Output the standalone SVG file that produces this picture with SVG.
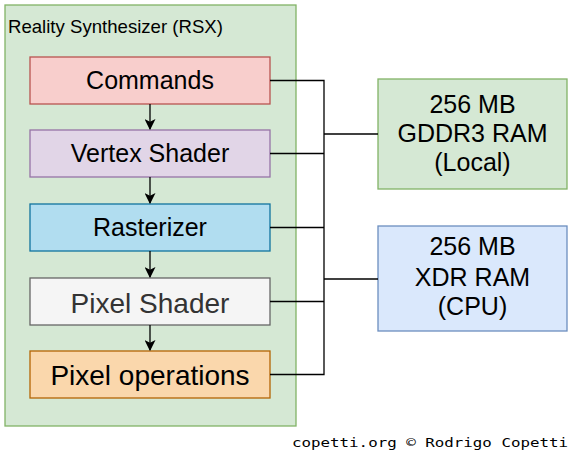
<svg xmlns="http://www.w3.org/2000/svg" width="573" height="461" viewBox="0 0 573 461">
<style>
.t{font-family:"Liberation Sans",Arial,sans-serif;fill:#000;text-anchor:middle}
.c{stroke:#000;stroke-width:1.3;fill:none}
</style>
<defs>
<marker id="ah" viewBox="0 0 10 10" refX="9" refY="5" markerWidth="11" markerHeight="11" markerUnits="userSpaceOnUse" orient="auto">
<path d="M0,0 L10,5 L0,10 L2.5,5 Z" fill="#000"/>
</marker>
</defs>
<rect width="573" height="461" fill="#fff"/>
<g id="rsx">
<rect x="5" y="5" width="291" height="421" fill="#d5e8d4" stroke="#82b366" stroke-width="1.3"/>
<text class="t" x="8" y="33" style="text-anchor:start;font-size:18.6px">Reality Synthesizer (RSX)</text>
</g>
<g id="commands">
<rect x="30" y="57" width="240" height="47" fill="#f8cecc" stroke="#b85450" stroke-width="1.3"/>
<text class="t" x="150" y="88.5" font-size="25">Commands</text>
</g>
<g id="vertex">
<rect x="30" y="130" width="240" height="47" fill="#e1d5e7" stroke="#9673a6" stroke-width="1.3"/>
<text class="t" x="150" y="162" font-size="25">Vertex Shader</text>
</g>
<g id="rasterizer">
<rect x="30" y="204" width="240" height="47" fill="#b1ddf0" stroke="#10739e" stroke-width="1.3"/>
<text class="t" x="150" y="235.5" font-size="25">Rasterizer</text>
</g>
<g id="pixelshader">
<rect x="30" y="278" width="240" height="47" fill="#f5f5f5" stroke="#666666" stroke-width="1.3"/>
<text class="t" x="150" y="312.5" font-size="28" style="fill:#333333">Pixel Shader</text>
</g>
<g id="pixelops">
<rect x="30" y="351" width="240" height="47" fill="#fad7ac" stroke="#b46504" stroke-width="1.3"/>
<text class="t" x="150" y="385" font-size="28">Pixel operations</text>
</g>
<g id="gddr3">
<rect x="378" y="79" width="189" height="110" fill="#d5e8d4" stroke="#82b366" stroke-width="1.3"/>
<text class="t" x="472.5" y="112.5" font-size="25">256 MB</text>
<text class="t" x="472.5" y="142" font-size="25">GDDR3 RAM</text>
<text class="t" x="472.5" y="171" font-size="25">(Local)</text>
</g>
<g id="xdr">
<rect x="378" y="226" width="189" height="105" fill="#dae8fc" stroke="#6c8ebf" stroke-width="1.3"/>
<text class="t" x="472.5" y="255" font-size="25">256 MB</text>
<text class="t" x="472.5" y="285.5" font-size="25">XDR RAM</text>
<text class="t" x="472.5" y="315" font-size="25">(CPU)</text>
</g>
<g id="connectors">
<path class="c" d="M150,104 V129" marker-end="url(#ah)"/>
<path class="c" d="M150,177 V203" marker-end="url(#ah)"/>
<path class="c" d="M150,251 V277" marker-end="url(#ah)"/>
<path class="c" d="M150,325 V350" marker-end="url(#ah)"/>
<path class="c" d="M270,80.5 H324 V374.5 H270"/>
<path class="c" d="M270,153.5 H324"/>
<path class="c" d="M270,227.5 H324"/>
<path class="c" d="M270,301.5 H324"/>
<path class="c" d="M324,134 H378"/>
<path class="c" d="M324,279 H378"/>
</g>
<text x="292" y="447.3" textLength="276" lengthAdjust="spacingAndGlyphs" style="font-family:'DejaVu Sans Mono',monospace;font-size:12px;fill:#000">copetti.org © Rodrigo Copetti</text>
</svg>
